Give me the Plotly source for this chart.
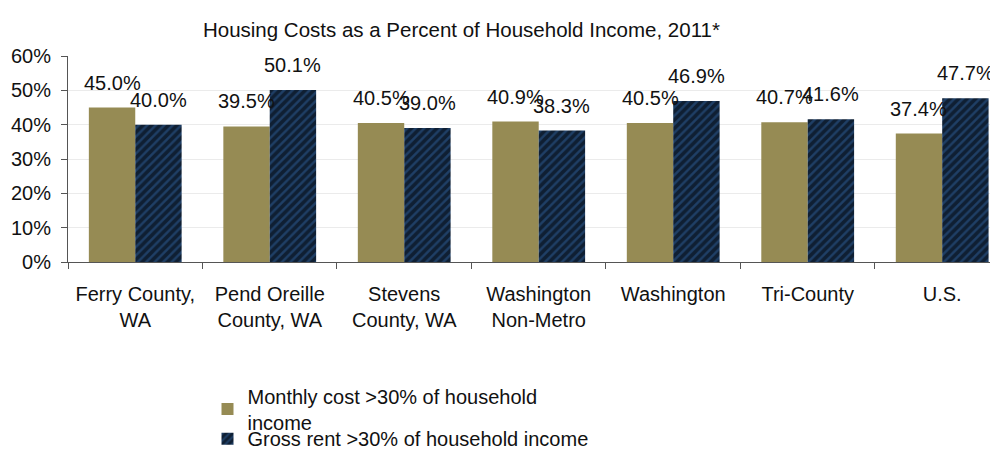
import plotly.graph_objects as go

categories = ["Ferry County,<br>WA", "Pend Oreille<br>County, WA", "Stevens<br>County, WA",
              "Washington<br>Non-Metro", "Washington", "Tri-County", "U.S."]
monthly_cost = [45.0, 39.5, 40.5, 40.9, 40.5, 40.7, 37.4]
gross_rent = [40.0, 50.1, 39.0, 38.3, 46.9, 41.6, 47.7]
y_ticks = [0, 10, 20, 30, 40, 50, 60]
y_tick_labels = [f"{v}%" for v in y_ticks]

font_family = "Liberation Sans, Arial, sans-serif"
txt = "#111111"

fig = go.Figure()
fig.add_trace(go.Bar(
    x=categories, y=monthly_cost, name="Monthly cost >30% of household<br>income",
    marker=dict(color="#968B54", line=dict(width=0)),
    legend="legend",
))
fig.add_trace(go.Bar(
    x=categories, y=gross_rent, name="Gross rent >30% of household income",
    marker=dict(color="#1F3F66", line=dict(width=0),
                pattern=dict(shape="/", fgcolor="#000000", size=6, solidity=0.6)),
    legend="legend2",
))

# data labels above bars
annotations = []
for series, shift in ((monthly_cost, -23.2), (gross_rent, 23.2)):
    for c, v in zip(categories, series):
        annotations.append(dict(
            x=c, y=v, xref="x", yref="y", text=f"{v:.1f}%", showarrow=False,
            xshift=shift, yshift=25, xanchor="center", yanchor="middle",
            font=dict(size=20, color=txt, family=font_family),
        ))

# the page body adds an 8px offset, so the figure is sized to fill the rest of the window
fig.update_layout(
    width=990, height=445,
    margin=dict(l=60, r=0, t=48, b=191, autoexpand=False),
    paper_bgcolor="white", plot_bgcolor="white",
    barmode="group", bargap=0.31, bargroupgap=0,
    font=dict(family=font_family, size=20, color=txt),
    title=dict(text="Housing Costs as a Percent of Household Income, 2011*",
               x=0.458, xanchor="center", y=0.9506, yanchor="middle",
               font=dict(size=20.5, color=txt)),
    showlegend=True,
    legend=dict(x=0.15, y=-0.556, xanchor="left", yanchor="top",
                font=dict(size=20, color=txt), itemwidth=30,
                bgcolor="rgba(0,0,0,0)"),
    legend2=dict(x=0.15, y=-0.763, xanchor="left", yanchor="top",
                 font=dict(size=20, color=txt), itemwidth=30,
                 bgcolor="rgba(0,0,0,0)"),
    annotations=annotations,
)
fig.update_xaxes(
    type="category", range=[-0.5, 6.415], automargin=False,
    showline=True, linecolor="#555555", linewidth=1,
    ticks="outside", tickson="boundaries", ticklen=6, tickcolor="#555555",
    ticklabelstandoff=14,
    tickfont=dict(size=20, color=txt), showgrid=False,
)
fig.update_yaxes(
    range=[0, 60], tickvals=y_ticks, ticktext=y_tick_labels, automargin=False,
    showline=True, linecolor="#555555", linewidth=1,
    ticks="outside", ticklen=6, tickcolor="#555555", ticklabelstandoff=6,
    showgrid=True, gridcolor="#EBEBEB", gridwidth=1,
    tickfont=dict(size=20, color=txt), zeroline=False,
)

fig.write_html("out.html")
